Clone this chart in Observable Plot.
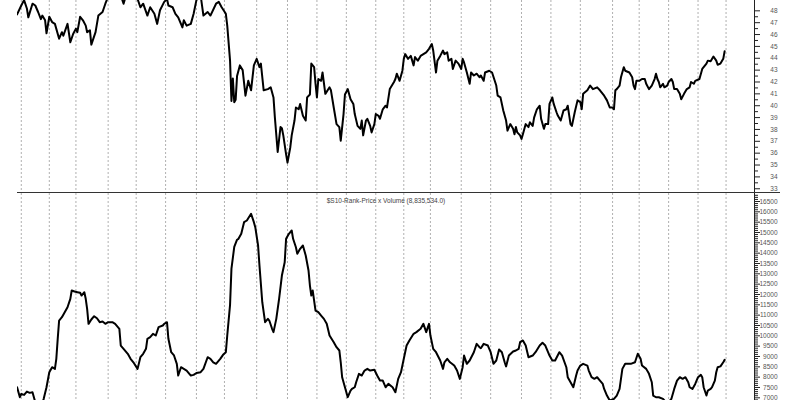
<!DOCTYPE html>
<html><head><meta charset="utf-8">
<script src="https://cdn.jsdelivr.net/npm/d3@7"></script>
<script src="https://cdn.jsdelivr.net/npm/@observablehq/plot@0.6"></script>
<style>
body{margin:0;background:#fff;}
#wrap{position:relative;width:800px;height:400px;overflow:hidden;font-family:"Liberation Sans",Arial,sans-serif;}
#top{position:absolute;left:0;top:0;}
#bot{position:absolute;left:0;top:193px;}
#sep{position:absolute;left:17px;top:192px;width:763px;height:1px;background:#333;}
</style></head><body>
<div id="wrap"><div id="top"></div><div id="bot"></div><div id="sep"></div></div>
<script>
// x = trading-session index
const xDomain = [12.3, 538.3];
const gridBars = [15,35,54,77,97,118,140,160,183,205,226,247,268,288,307,329,350,372,393,414,437,456,477,498,518];

// [session, price]
const price = [[12,47.7],[15,48.45],[17,48.9],[19,48.2],[20,47.45],[23,48.6],[25,48.45],[27,47.9],[29,47.3],[30,47.6],[32,47.2],[33,46.1],[35,47.5],[37,47.05],[39,46.9],[42,45.65],[44,46.2],[45,45.9],[48,46.9],[50,45.35],[52,46.05],[54,46.5],[55,46.2],[57,47.5],[59,47.2],[61,46.75],[62,46.2],[64,46.35],[65,45.15],[68,46.2],[70,47.6],[73,47.9],[75,48.6],[77,49.2],[79,49.6],[81,49.4],[84,49.7],[86,49.3],[88,48.6],[89,49.0],[91,49.5],[93,49.3],[96,49.6],[98,49.0],[100,48.3],[102,48.6],[105,47.6],[107,48.3],[110,47.75],[112,46.9],[114,48.05],[117,48.75],[119,49.0],[120,48.45],[123,48.3],[125,47.75],[127,47.45],[130,46.6],[131,47.2],[133,46.75],[136,46.9],[138,47.75],[140,48.9],[143,49.3],[145,47.6],[148,47.9],[150,47.6],[154,48.6],[156,48.75],[158,48.3],[161,47.75],[162,46.75],[164,43.8],[165,40.4],[166,42.3],[167,40.3],[168,40.5],[169,42.5],[171,43.4],[173,43.0],[175,40.85],[177,42.1],[179,41.3],[181,43.4],[183,43.95],[185,43.25],[186,43.55],[188,41.3],[191,41.4],[193,41.55],[195,40.7],[196,39.0],[198,36.1],[200,38.2],[201,38.1],[202,37.5],[204,35.9],[205,35.2],[207,36.5],[208,37.5],[210,38.75],[211,39.85],[213,39.7],[214,40.15],[216,39.15],[218,38.75],[219,40.7],[221,40.95],[222,43.55],[224,43.25],[225,41.85],[226,40.7],[227,42.25],[229,42.1],[230,42.8],[232,41.0],[235,41.55],[236,41.3],[238,39.85],[240,38.45],[242,38.2],[243,37.05],[245,39.3],[246,40.95],[248,41.4],[250,40.55],[252,40.15],[253,39.3],[255,38.3],[257,38.05],[258,38.75],[259,37.5],[261,38.75],[262,38.9],[264,38.3],[265,37.75],[267,38.45],[268,39.3],[270,39.15],[271,38.9],[273,39.7],[275,40.0],[276,39.85],[278,41.4],[281,42.0],[282,42.25],[283,42.7],[285,42.1],[287,42.95],[288,43.95],[289,44.35],[291,43.95],[293,44.2],[295,43.4],[296,44.1],[298,43.8],[300,44.2],[302,44.35],[304,44.5],[306,44.8],[308,45.2],[309,44.65],[311,42.8],[312,43.8],[314,44.2],[316,44.65],[317,44.35],[319,44.5],[320,43.8],[322,43.95],[323,43.1],[325,43.8],[327,43.55],[329,43.1],[330,43.95],[331,43.65],[333,42.8],[335,41.85],[336,42.8],[338,42.55],[340,42.7],[342,42.4],[343,42.55],[345,42.1],[346,42.8],[349,42.95],[351,42.8],[354,41.7],[355,40.85],[357,40.7],[359,39.6],[361,38.75],[362,37.9],[364,38.45],[366,38.05],[367,37.6],[368,38.2],[369,37.75],[371,37.5],[372,37.2],[373,37.6],[375,38.45],[377,38.2],[378,38.6],[380,38.3],[381,39.0],[383,39.7],[385,40.0],[386,38.9],[388,38.05],[389,38.45],[391,38.45],[392,40.15],[394,40.7],[395,40.15],[397,39.45],[398,39.15],[400,38.75],[402,39.6],[404,39.7],[405,40.0],[407,38.45],[408,38.3],[410,39.45],[412,40.45],[414,40.3],[415,39.7],[416,41.0],[419,41.3],[421,41.7],[423,41.4],[426,41.55],[428,41.3],[431,40.85],[433,40.45],[435,39.85],[437,39.85],[438,39.7],[439,41.3],[440,41.4],[442,41.7],[443,42.4],[445,43.25],[446,42.95],[449,42.8],[451,42.4],[452,41.7],[453,41.4],[454,42.1],[456,42.1],[458,42.25],[460,42.25],[461,41.85],[463,41.4],[465,41.7],[467,42.25],[468,42.7],[469,42.25],[470,42.0],[471,41.55],[473,41.85],[474,41.55],[476,41.7],[477,42.0],[479,42.25],[480,42.0],[481,41.4],[483,41.4],[485,41.0],[486,40.55],[488,41.0],[490,41.4],[492,41.55],[493,42.0],[495,41.85],[496,42.1],[499,42.25],[501,43.1],[504,43.55],[505,43.8],[507,43.75],[509,44.15],[511,43.8],[512,43.45],[514,43.55],[516,43.95],[517,44.6]];

// [session, price x volume rank]
const pxv = [[12,7512],[14,7028],[15,7192],[17,7140],[19,7304],[21,7240],[23,7270],[24,7028],[25,6780],[29,6500],[31,6950],[33,7512],[35,8238],[37,8480],[39,8400],[40,8887],[41,9855],[42,10740],[44,10900],[46,11142],[48,11384],[50,11790],[51,12192],[53,12143],[55,12110],[57,12080],[58,11950],[60,12110],[61,11790],[62,11306],[63,10580],[65,10790],[67,10950],[69,10850],[71,10660],[73,10690],[75,10580],[77,10660],[80,10660],[82,10580],[85,10340],[86,9530],[88,9370],[91,9130],[93,8887],[95,8720],[98,8400],[100,8964],[102,9130],[104,9370],[105,9855],[107,9935],[109,10097],[111,10015],[113,10420],[116,10500],[117,10580],[119,10660],[120,9855],[122,9207],[124,9050],[126,8645],[127,8078],[129,8480],[131,8400],[133,8320],[136,8078],[138,8110],[140,8200],[143,8240],[145,8400],[148,8964],[150,8887],[152,8720],[154,8645],[157,8887],[159,9080],[161,9207],[162,10015],[164,11500],[165,13250],[167,14300],[169,14650],[170,14695],[172,14937],[174,15500],[176,15580],[177,15692],[179,15905],[181,15500],[182,15256],[184,14370],[185,13400],[187,11626],[189,10660],[191,10820],[192,10740],[194,10340],[195,10180],[197,10820],[199,11790],[201,12918],[203,13562],[204,14695],[206,14937],[208,15096],[209,14695],[211,14288],[212,13969],[214,14210],[216,14370],[218,13886],[220,13160],[221,12434],[222,11950],[223,12192],[225,11224],[227,11142],[229,10982],[231,10820],[233,10580],[235,10015],[238,9692],[240,9450],[242,9290],[243,8720],[244,7996],[246,7512],[248,7028],[250,7350],[251,7430],[253,7512],[254,7754],[256,8160],[258,8078],[260,8320],[262,8400],[264,8320],[267,8360],[269,8078],[271,7835],[273,7835],[275,7512],[277,7673],[280,7512],[282,7270],[284,7917],[286,8238],[288,8887],[290,9530],[292,9775],[295,10097],[297,10180],[300,10340],[302,10580],[304,10180],[306,10580],[307,10015],[309,9370],[311,9207],[314,8806],[316,8400],[317,8720],[319,8887],[321,8720],[324,8560],[326,8320],[328,7917],[330,8480],[331,9045],[333,8645],[335,8806],[338,9207],[340,9612],[342,9450],[343,9400],[345,9612],[348,9530],[350,9207],[352,8645],[354,8806],[356,9340],[358,9207],[360,8720],[361,8520],[363,9045],[366,9240],[368,9290],[370,9370],[371,9692],[373,9775],[375,9530],[377,8964],[380,9045],[382,9207],[385,9530],[387,9660],[389,9530],[392,9045],[394,8806],[396,8806],[399,9207],[401,9045],[404,8480],[405,7996],[407,7754],[409,7512],[411,8078],[412,8320],[414,8560],[416,8645],[419,8560],[420,8320],[422,7996],[424,7917],[426,7996],[428,7835],[430,7673],[431,7430],[433,7110],[435,6870],[438,6950],[440,7110],[442,7430],[444,8400],[446,8645],[448,8645],[450,8645],[453,8720],[455,9130],[457,8887],[458,8560],[461,8400],[463,8160],[465,7754],[466,7110],[468,7028],[470,7028],[473,6950],[475,6790],[477,6790],[479,6950],[481,7430],[483,7835],[485,7996],[487,7917],[489,7996],[491,7754],[492,7512],[494,7430],[496,7673],[498,7996],[500,8110],[501,7996],[502,7512],[504,7110],[505,7350],[507,7430],[508,7512],[510,7835],[511,8238],[512,8480],[514,8520],[516,8720],[517,8836]];

const priceDomain = [32.6, 48.87];
const priceTicks = d3.range(33, 49);
const priceMinor = d3.range(33.5, 48.5, 1);
const pxvDomain = [6870, 16887];
const pxvTicks = d3.range(7000, 16501, 500);
const pxvMinor = d3.range(6900, 16801, 100).filter(v => v % 500 !== 0);
const panelTitle = "$S10-Rank-Price x Volume (8,835,534.0)";

function panel(height, yDomain, series, major, minor, title) {
  return Plot.plot({
    width: 800, height,
    marginLeft: 17, marginRight: 46, marginTop: 0, marginBottom: 0,
    style: {fontFamily: "'Liberation Sans', Arial, sans-serif", fontSize: "6.5px", color: "#333", background: "transparent", overflow: "visible"},
    x: {domain: xDomain, axis: null},
    y: {domain: yDomain, axis: null},
    marks: [
      Plot.ruleX(gridBars, {stroke: "#b0b0b0", strokeDasharray: "2,2", strokeWidth: 1}),
      Plot.line(series, {x: d => d[0], y: d => d[1], stroke: "#000", strokeWidth: 2, clip: true}),
      Plot.ruleX([xDomain[1]], {stroke: "#222", strokeWidth: 1}),
      Plot.axisY(major, {anchor: "right", tickSize: 5, tickPadding: 18, textAnchor: "end", tickFormat: d => String(d), stroke: "#222", fill: "#555"}),
      Plot.axisY(minor, {anchor: "right", tickSize: 3, tickFormat: () => "", stroke: "#222"}),
      title ? Plot.text([title], {frameAnchor: "top", dy: 5, fill: "#444"}) : null
    ]
  });
}

document.getElementById("top").appendChild(panel(193, priceDomain, price, priceTicks, priceMinor, null));
document.getElementById("bot").appendChild(panel(207, pxvDomain, pxv, pxvTicks, pxvMinor, panelTitle));
</script>
</body></html>
